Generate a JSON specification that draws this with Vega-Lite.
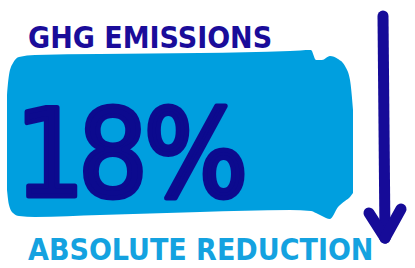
{
  "$schema": "https://vega.github.io/schema/vega-lite/v6.json",
  "autosize": {"type": "fit", "contains": "padding"},
  "width": 415,
  "height": 268,
  "padding": 0,
  "background": "white",
  "config": {"view": {"stroke": null}},
  "datasets": {
    "blob": [
      {"x": 7, "y": 95, "y2": 190},
      {"x": 9, "y": 75, "y2": 205},
      {"x": 13, "y": 63, "y2": 213},
      {"x": 19, "y": 57, "y2": 216},
      {"x": 35, "y": 55, "y2": 217},
      {"x": 100, "y": 54, "y2": 215},
      {"x": 200, "y": 53, "y2": 212},
      {"x": 290, "y": 51, "y2": 210},
      {"x": 311, "y": 50, "y2": 211},
      {"x": 316, "y": 60, "y2": 213},
      {"x": 322, "y": 60, "y2": 216},
      {"x": 330, "y": 56, "y2": 219},
      {"x": 338, "y": 59, "y2": 207},
      {"x": 345, "y": 66, "y2": 201},
      {"x": 350, "y": 80, "y2": 197},
      {"x": 353, "y": 110, "y2": 193}
    ],
    "chars": [
      {"x": 50, "y": 196, "t": "1"},
      {"x": 113, "y": 196, "t": "8"},
      {"x": 196, "y": 196, "t": "%"}
    ],
    "heads": [
      {"x": 28, "y": 48, "t": "GHG EMISSIONS", "k": "top"},
      {"x": 28, "y": 260, "t": "ABSOLUTE REDUCTION", "k": "bottom"}
    ],
    "arrow": [
      {"x": 383, "y": 16, "x2": 385, "y2": 238},
      {"x": 369, "y": 213, "x2": 385, "y2": 238},
      {"x": 401, "y": 209, "x2": 385, "y2": 238}
    ]
  },
  "layer": [
    {
      "data": {"name": "blob"},
      "mark": {"type": "area", "color": "#009fdf", "interpolate": "monotone"},
      "encoding": {
        "x": {"field": "x", "type": "quantitative", "scale": {"domain": [0, 415], "nice": false, "zero": false}, "axis": null},
        "y": {"field": "y", "type": "quantitative", "scale": {"domain": [0, 268], "nice": false, "zero": false, "reverse": true}, "axis": null},
        "y2": {"field": "y2"}
      }
    },
    {
      "data": {"name": "chars"},
      "mark": {"type": "text", "font": "DejaVu Sans Condensed", "fontSize": 122, "fontWeight": "normal", "color": "#0c0a8e", "stroke": "#0c0a8e", "strokeWidth": 5, "strokeJoin": "round", "align": "center", "baseline": "alphabetic"},
      "encoding": {
        "x": {"field": "x", "type": "quantitative", "axis": null},
        "y": {"field": "y", "type": "quantitative", "axis": null},
        "text": {"field": "t"}
      }
    },
    {
      "data": {"name": "heads"},
      "mark": {"type": "text", "font": "DejaVu Sans Condensed", "fontSize": 30, "fontWeight": "bold", "align": "left", "baseline": "alphabetic"},
      "encoding": {
        "x": {"field": "x", "type": "quantitative", "axis": null},
        "y": {"field": "y", "type": "quantitative", "axis": null},
        "text": {"field": "t"},
        "color": {"field": "k", "type": "nominal", "scale": {"domain": ["top", "bottom"], "range": ["#1a0c9a", "#14a2e0"]}, "legend": null}
      }
    },
    {
      "data": {"name": "arrow"},
      "mark": {"type": "rule", "color": "#160b98", "strokeWidth": 11, "strokeCap": "round"},
      "encoding": {
        "x": {"field": "x", "type": "quantitative", "axis": null},
        "y": {"field": "y", "type": "quantitative", "axis": null},
        "x2": {"field": "x2"},
        "y2": {"field": "y2"}
      }
    }
  ]
}
